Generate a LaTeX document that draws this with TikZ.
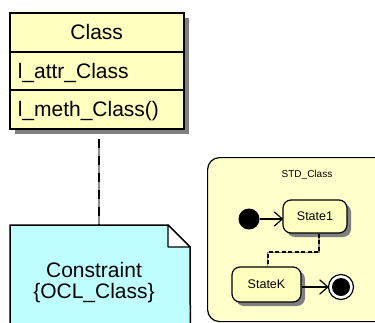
\documentclass[tikz,border=0pt]{standalone}
\usepackage{fontspec}
\setmainfont{Liberation Sans}
\usetikzlibrary{calc,shadows}
\definecolor{classfill}{RGB}{255,255,192}
\definecolor{stdfill}{RGB}{255,255,204}
\definecolor{notefill}{RGB}{192,255,255}
\definecolor{shadowgray}{RGB}{128,128,128}
\definecolor{gapgray}{RGB}{140,140,140}

\begin{document}
\begin{tikzpicture}[x=1pt,y=-1pt,
  compart/.style={draw=black, line width=1.5pt, fill=classfill, anchor=north west,
    inner xsep=8pt, inner ysep=0pt, text width=158pt, minimum height=#1,
    font=\fontsize{21}{24}\selectfont, text height=15pt, text depth=0pt},
  statebox/.style={draw=black, line width=1.2pt, fill=classfill, rounded corners=8pt,
    font=\fontsize{12.5}{14}\selectfont, inner sep=0pt,
    drop shadow={shadow xshift=4pt, shadow yshift=-4pt, fill=shadowgray, opacity=1}},
  transarrow/.style={draw=black, line width=1.2pt},
  openhead/.style={draw=black, line width=1.2pt, line cap=round, line join=round},
]
\useasboundingbox (0,0) rectangle (375,322);
\clip (0,0) rectangle (375,322);

% class box with its shadow
\fill[shadowgray] (15,18) rectangle (189,134);
\node[compart=39pt, align=center] (title) at (9,12) {Class};
\node[compart=38pt, align=left] (attr) at (9,51) {l\_attr\_Class};
\node[compart=39pt, align=left] (meth) at (9,89) {l\_meth\_Class()};

% constraint note with folded corner
\node[minimum width=180pt, minimum height=115pt, anchor=north west, inner sep=0pt] (note) at (10,225) {};
\draw[line width=1.5pt, fill=notefill] (note.north west) -- ++(158,0) -- ++(22,22)
  -- (note.south east) -- (note.south west) -- cycle;
\draw[line width=1.2pt, fill=white, line join=round] ($(note.north west)+(158,0)$) -- ++(0,22) -- ++(22,0) -- cycle;
\node[font=\fontsize{21}{21}\selectfont, align=center] (notelabel) at (94,283)
  {Constraint\\\{OCL\_Class\}};

% dependency from class to note
\draw[gapgray, line width=1.5pt] (meth.south -| 99,0) ++(0,9) -- ($(note.north west)+(89,0)$);
\draw[black, line width=2.5pt, dash pattern=on 9pt off 8pt] (meth.south -| 99,0) ++(0,9) -- ($(note.north west)+(89,0)$);

% state diagram frame
\node[draw=black, line width=1.2pt, fill=stdfill, rounded corners=12pt,
  minimum width=200pt, minimum height=164pt, anchor=north west] (std) at (207,157) {};
\node[font=\fontsize{10}{12}\selectfont] (stdlabel) at (307,175) {STD\_Class};

\node[statebox, minimum width=64pt, minimum height=33pt] (state1) at (315,216.5) {State1};
\node[statebox, minimum width=69pt, minimum height=35pt] (stateK) at (266.5,284.5) {StateK};

\node[circle, fill=black, minimum size=21pt, inner sep=0pt] (init) at (249,219) {};
\node[circle, draw=black, line width=1.2pt, fill=white, minimum size=25pt, inner sep=0pt] (final) at (341,287) {};
\node[circle, fill=black, minimum size=18pt, inner sep=0pt] (finalin) at (final.center) {};

% transitions
\draw[transarrow] (init.east) -- (init.east -| state1.west);
\draw[openhead] ($(init.east -| state1.west)+(-8,-7)$) -- (init.east -| state1.west) -- ++(-8,7);
\draw[transarrow] (stateK.east |- final.west) -- (final.west);
\draw[openhead] ($(final.west)+(-8,-7)$) -- (final.west) -- ++(-8,7);

% dashed link between the states
\draw[gapgray, line width=1.2pt] ([xshift=4pt]state1.south) |- ($(stateK.north)+(1,-14)$) -- ([xshift=1pt]stateK.north);
\draw[black, line width=2pt, dash pattern=on 4pt off 2.5pt] ([xshift=4pt]state1.south) |- ($(stateK.north)+(1,-14)$) -- ([xshift=1pt]stateK.north);
\end{tikzpicture}
\end{document}
